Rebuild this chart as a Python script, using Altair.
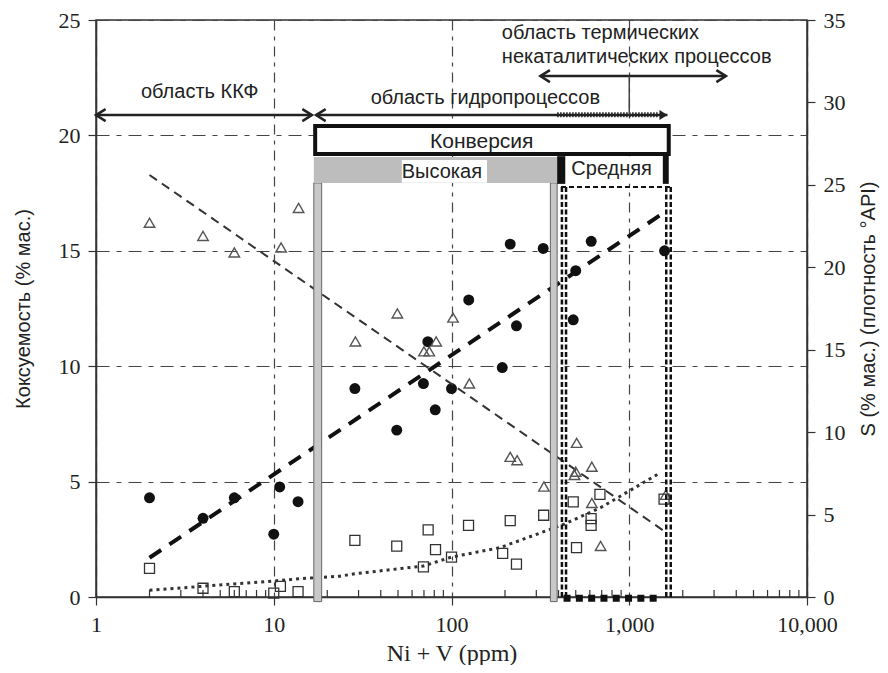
import altair as alt
import pandas as pd

# ---------------- data ----------------
# Коксуемость (% мас.), left axis — filled circles
coke_x = [2, 4, 6, 10, 10.8, 13.7, 28.6, 49.2, 69.5, 73.6, 81, 100, 125, 193, 214, 232, 328, 484, 500, 611, 1580]
coke_y = [4.3, 3.41, 4.3, 2.72, 4.77, 4.13, 9.03, 7.23, 9.25, 11.06, 8.11, 9.03, 12.87, 9.94, 15.29, 11.75, 15.1, 12.01, 14.14, 15.41, 15.0]

# плотность °API, right axis — open triangles
api_x = [2, 4, 6, 11, 13.8, 28.8, 49.6, 82, 70, 75, 102, 126, 214, 234, 331, 506, 492, 500, 616, 616, 690, 1604]
api_y = [22.7, 21.9, 20.9, 21.2, 23.6, 15.5, 17.2, 15.5, 14.9, 14.9, 16.95, 12.95, 8.5, 8.3, 6.7, 9.35, 7.4, 7.6, 7.9, 5.7, 3.1, 6.2]

# S (% мас.), right axis — open squares
s_x = [2, 4, 6, 10, 10.9, 13.7, 28.6, 49.2, 69.5, 73.9, 81.3, 100, 124.7, 194, 214, 232, 330, 484, 505, 610, 610, 684, 1570]
s_y = [1.74, 0.53, 0.32, 0.24, 0.64, 0.32, 3.44, 3.09, 1.83, 4.07, 2.87, 2.42, 4.35, 2.65, 4.63, 1.99, 4.96, 5.77, 3.0, 4.76, 4.35, 6.23, 5.94]

# trend lines
coke_trend_x = [2, 1600]
coke_trend_y = [1.70, 16.7]
api_trend_x = [2, 1570]
api_trend_y = [25.6, 4.0]
s_trend_x = [2, 10, 14, 23.5, 28.5, 69.5, 100, 188, 338, 428, 690, 1503]
s_trend_y = [0.41, 0.97, 1.11, 1.26, 1.41, 1.88, 2.42, 3.0, 4.0, 4.41, 5.42, 7.55]

x_ticks = [1, 10, 100, 1000, 10000]
minor_ticks = [2, 3, 4, 5, 6, 7, 8, 9, 20, 30, 40, 50, 60, 70, 80, 90,
               200, 300, 400, 500, 600, 700, 800, 900, 2000, 3000, 4000, 5000, 6000, 7000, 8000, 9000]
left_ticks = [0, 5, 10, 15, 20, 25]
right_ticks = [0, 5, 10, 15, 20, 25, 30, 35]

# annotation geometry (x in ppm, y in left-axis units)
arrow_labels = ["ККФ", "гидро", "термич"]
arrow_x = [1, 17.3, 316]
arrow_x2 = [16.4, 1640, 3500]
arrow_y = [20.88, 20.88, 22.57]

text_labels = ["область ККФ", "область гидропроцессов", "Конверсия", "Высокая", "Средняя"]
text_x = [3.83, 155, 148, 88.3, 796]
text_y = [21.62, 21.36, 19.45, 18.17, 18.28]
thermal_lines = ["область термических", "некаталитических процессов"]
thermal_x = [192, 192]
thermal_y = [24.18, 23.15]

# ---------------- helpers ----------------
XS = alt.Scale(type="log", domain=[1, 10000])
YL = alt.Scale(domain=[0, 25])
YR = alt.Scale(domain=[0, 35])
SANS = "Liberation Sans"
SERIF = "Liberation Serif"
INK = "#222222"


def X(field="x"):
    return alt.X(f"{field}:Q", scale=XS)


def YLa(field="y"):
    return alt.Y(f"{field}:Q", scale=YL)


def YRa(field="y"):
    return alt.Y(f"{field}:Q", scale=YR)


def YAn(field="y"):
    return alt.Y(f"{field}:Q", scale=YL, axis=None)


# ---------------- left group ----------------
coke_df = pd.DataFrame({"x": coke_x, "y": coke_y})
coke_tr = pd.DataFrame({"x": coke_trend_x, "y": coke_trend_y})

coke_pts = alt.Chart(coke_df).mark_circle(color="#111", size=120, opacity=1).encode(
    x=alt.X("x:Q", scale=XS, axis=alt.Axis(
        values=x_ticks, format=",.0f", tickSize=8, labelPadding=9, labelFlush=False,
        labelOverlap=False, grid=True, gridDash=[10, 6, 4, 6], gridColor="#444", gridWidth=1.2,
        title="Ni + V (ppm)", titleFont=SERIF, titleFontSize=24, titleY=63,
        titleBaseline="alphabetic")),
    y=alt.Y("y:Q", scale=YL, axis=alt.Axis(
        orient="left", values=left_ticks, tickSize=8, labelPadding=8,
        grid=True, gridDash=[13, 7, 5, 7], gridColor="#444", gridWidth=1.2,
        title="Коксуемость (% мас.)", titleAngle=270, titleX=-73, titleY=288.5,
        titleAlign="center", titleBaseline="middle")),
)
coke_line = alt.Chart(coke_tr).mark_line(
    color="#111", strokeWidth=4, strokeDash=[14, 10]
).encode(x=X(), y=YLa())

left_group = alt.layer(coke_pts, coke_line)

# ---------------- right group ----------------
api_df = pd.DataFrame({"x": api_x, "y": api_y})
s_df = pd.DataFrame({"x": s_x, "y": s_y})
api_tr = pd.DataFrame({"x": api_trend_x, "y": api_trend_y})
s_tr = pd.DataFrame({"x": s_trend_x, "y": s_trend_y})

api_line = alt.Chart(api_tr).mark_line(color="#333", strokeWidth=2, strokeDash=[9, 6]).encode(
    x=X(), y=alt.Y("y:Q", scale=YR, axis=alt.Axis(
        orient="right", values=right_ticks, tickSize=8, labelPadding=8, grid=False,
        title="S (% мас.) (плотность °API)", titleAngle=270, titleX=61, titleY=288.5,
        titleAlign="center", titleBaseline="middle")))
s_line = alt.Chart(s_tr).mark_line(color="#333", strokeWidth=3, strokeDash=[3, 4]).encode(
    x=X(), y=YRa())
api_pts = alt.Chart(api_df).mark_point(shape="triangle-up", filled=False, color="#555",
                                       strokeWidth=1.4, size=110, opacity=1).encode(x=X(), y=YRa())
s_pts = alt.Chart(s_df).mark_point(shape="square", filled=False, color="#333",
                                   strokeWidth=1.3, size=100, opacity=1).encode(x=X(), y=YRa())

right_group = alt.layer(api_line, s_line, api_pts, s_pts)

# ---------------- annotation group (left-axis units) ----------------
gray_bars = pd.DataFrame({"x": [16.8, 360], "x2": [18.6, 393], "y": [-0.2, -0.2], "y2": [17.94, 17.94]})
bars = alt.Chart(gray_bars).mark_rect(fill="#c8c8c8", stroke="#666", strokeWidth=1).encode(
    x=X(), x2="x2:Q", y=YAn(), y2="y2:Q")

konv = alt.Chart(pd.DataFrame({"x": [17.1], "x2": [1668], "y": [19.19], "y2": [20.41]})).mark_rect(
    fill="white", stroke="#111", strokeWidth=4).encode(x=X(), x2="x2:Q", y=YAn(), y2="y2:Q")

rect_df = pd.DataFrame({
    "x": [16.8, 52.5, 393, 438, 1545],
    "x2": [393, 158.4, 438, 1545, 1668],
    "y": [17.94, 17.95, 17.9, 17.9, 17.9],
    "y2": [19.06, 18.93, 19.1, 19.1, 19.19],
    "fill": ["#bdbdbd", "#ffffff", "#111111", "#ffffff", "#111111"],
})
rects = alt.Chart(rect_df).mark_rect().encode(
    x=X(), x2="x2:Q", y=YAn(), y2="y2:Q", fill=alt.Fill("fill:N", scale=None))

dash_v = pd.DataFrame({"x": [418, 441, 1615, 1712], "y": [0, 0, 0, 0], "y2": [17.76] * 4})
dash_vert = alt.Chart(dash_v).mark_rule(color="#111", strokeWidth=2.5, strokeDash=[5, 2.5]).encode(
    x=X(), y=YAn(), y2="y2:Q")
dash_top = alt.Chart(pd.DataFrame({"x": [413], "x2": [1712], "y": [17.76]})).mark_rule(
    color="#111", strokeWidth=2, strokeDash=[5, 3]).encode(x=X(), x2="x2:Q", y=YAn())
dash_bottom = alt.Chart(pd.DataFrame({"x": [427], "x2": [1480], "y": [-0.05]})).mark_rule(
    color="#111", strokeWidth=7, strokeDash=[7, 5.3]).encode(x=X(), x2="x2:Q", y=YAn())

arrows_df = pd.DataFrame({"name": arrow_labels, "x": arrow_x, "x2": arrow_x2, "y": arrow_y})
arrow_lines = alt.Chart(arrows_df).mark_rule(color="#222", strokeWidth=2.5).encode(
    x=X(), x2="x2:Q", y=YAn())
hatch = alt.Chart(pd.DataFrame({"x": [393], "x2": [1450], "y": [20.9]})).mark_rule(
    color="#222", strokeWidth=5, strokeDash=[1.5, 1.5]).encode(x=X(), x2="x2:Q", y=YAn())
sep_tick = alt.Chart(pd.DataFrame({"x": [1000], "y": [20.88], "y2": [22.57]})).mark_rule(
    color="#444", strokeWidth=1.5).encode(x=X(), y=YAn(), y2="y2:Q")

right_heads = pd.DataFrame({"x": [16.4, 3500], "y": [20.88, 22.57]})
left_heads = pd.DataFrame({"x": [1, 17.3, 316], "y": [20.88, 20.88, 22.57]})
rh = alt.Chart(right_heads).mark_point(shape="M-1.6,-1L0,0L-1.6,1", filled=False, color="#222",
                                       strokeWidth=2.5, size=144, opacity=1).encode(x=X(), y=YAn())
lh = alt.Chart(left_heads).mark_point(shape="M1.6,-1L0,0L1.6,1", filled=False, color="#222",
                                      strokeWidth=2.5, size=144, opacity=1).encode(x=X(), y=YAn())
fh = alt.Chart(pd.DataFrame({"x": [1640], "y": [20.88]})).mark_point(
    shape="M-1.6,-1L0,0L-1.6,1Z", filled=True, color="#222", size=100, opacity=1).encode(x=X(), y=YAn())

texts_df = pd.DataFrame({"t": text_labels, "x": text_x, "y": text_y,
                         "size": [20, 20, 21, 20, 20]})
texts = alt.Chart(texts_df).mark_text(align="center", baseline="alphabetic", font=SANS,
                                      color=INK).encode(
    x=X(), y=YAn(), text="t:N", size=alt.Size("size:Q", scale=None))
therm = alt.Chart(pd.DataFrame({"t": thermal_lines, "x": thermal_x, "y": thermal_y})).mark_text(
    align="left", baseline="alphabetic", font=SANS, fontSize=20, color=INK).encode(
    x=X(), y=YAn(), text="t:N")

minor = alt.Chart(pd.DataFrame({"x": minor_ticks})).mark_rule(color="#333", strokeWidth=1.2).encode(
    x=X(), y=alt.value(577), y2=alt.value(570))

annot_group = alt.layer(minor, bars, konv, rects, dash_vert, dash_top, dash_bottom,
                        arrow_lines, hatch, sep_tick, rh, lh, fh, texts, therm)

chart = alt.layer(left_group, right_group, annot_group).resolve_scale(
    y="independent"
).properties(
    width=711, height=577,
    autosize=alt.AutoSizeParams(type="none"),
    padding={"left": 88, "top": 12, "right": 73, "bottom": 68},
).configure_view(
    stroke="#333", strokeWidth=1.5
).configure_axis(
    domainColor="#333", domainWidth=1.5, tickColor="#333", tickWidth=1.2,
    labelColor=INK, labelFont=SERIF, labelFontSize=22,
    titleFont=SANS, titleFontSize=20, titleFontWeight="normal", titleColor=INK,
)

chart.save("out.html", embed_options={"renderer": "svg", "actions": False})
